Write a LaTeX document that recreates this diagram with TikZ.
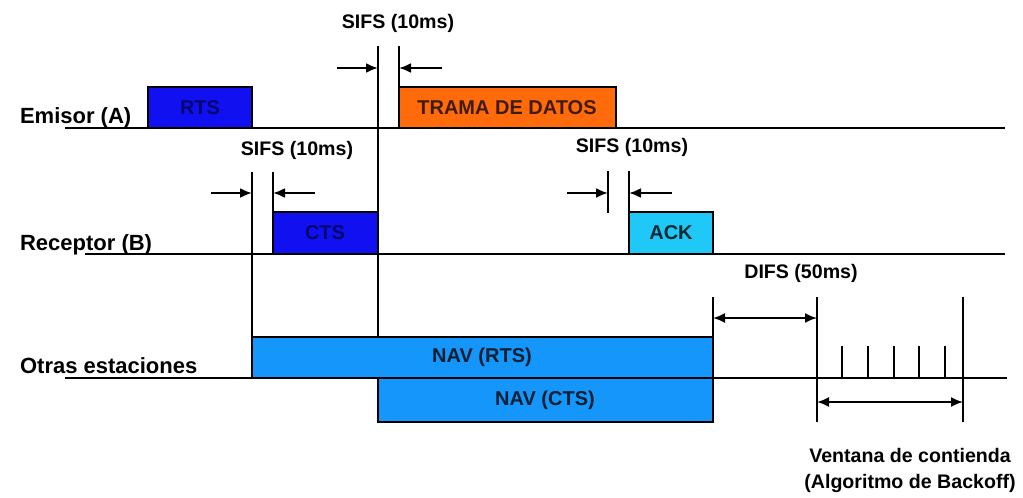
\documentclass[tikz,border=0pt]{standalone}
\usepackage{fontspec}
\setmainfont{Liberation Sans}
\usetikzlibrary{arrows.meta}

\definecolor{rtsblue}{RGB}{16,16,240}
\definecolor{ackcyan}{RGB}{32,200,248}
\definecolor{navblue}{RGB}{20,150,250}
\definecolor{datorange}{RGB}{255,106,10}

\tikzset{
  timeline/.style={line width=1.1pt},
  guide/.style={line width=0.6pt},
  frame/.style={draw, line width=1.1pt},
  boxtext/.style={font=\bfseries\fontsize{10}{12}\selectfont},
  lbl/.style={font=\bfseries\fontsize{9.8}{13}\selectfont, anchor=base},
  sta/.style={font=\bfseries\fontsize{11}{14}\selectfont, anchor=base west},
  gap/.style={line width=1.1pt, -{Latex[length=6pt,width=5pt]}},
  span/.style={line width=0.9pt, {Latex[length=6pt,width=5pt]}-{Latex[length=6pt,width=5pt]}}
}

\begin{document}
\begin{tikzpicture}[x=0.5pt,y=-0.5pt]
\useasboundingbox (0,0) rectangle (1023,498);

% station names
\node[sta] (emisor) at (13,123) {Emisor (A)};
\node[sta] (receptor) at (13,250) {Receptor (B)};
\node[sta] (otras) at (13,373) {Otras estaciones};

% time lines
\coordinate (A0) at (65,128);   \coordinate (A1) at (1005,128);
\coordinate (B0) at (85,254);   \coordinate (B1) at (1005,254);
\coordinate (C0) at (65,378);   \coordinate (C1) at (1007,378);
\draw[timeline] (A0) -- (A1);
\draw[timeline] (B0) -- (B1);
\draw[timeline] (C0) -- (C1);

% frames
\draw[frame, fill=rtsblue] (148,87) rectangle (252,128);
\node[boxtext, text=rtsblue!45!black] (rts) at (200,108) {RTS};
\draw[frame, fill=datorange] (399,87) rectangle (616,128);
\node[boxtext, text=datorange!25!black] (datos) at (507,108) {TRAMA DE DATOS};
\draw[frame, fill=rtsblue] (273,212) rectangle (378,254);
\node[boxtext, text=rtsblue!45!black] (cts) at (325,233) {CTS};
\draw[frame, fill=ackcyan] (629,212) rectangle (713,254);
\node[boxtext, text=ackcyan!20!black] (ack) at (671,233) {ACK};
\draw[frame, fill=navblue] (252,337) rectangle (713,378);
\node[boxtext, text=navblue!20!black] (navrts) at (482,357) {NAV (RTS)};
\draw[frame, fill=navblue] (378,378) rectangle (713,422);
\node[boxtext, text=navblue!20!black] (navcts) at (545,400) {NAV (CTS)};

% guide lines
\draw[guide] (378,46) -- (378,337);
\draw[guide] (399,46) -- (399,87);
\draw[guide] (252,172) -- (252,337);
\draw[guide] (273,172) -- (273,212);
\draw[guide] (608,171) -- (608,213);
\draw[guide] (629,171) -- (629,212);
\draw[guide] (713,297) -- (713,337);
\draw[guide] (817,297) -- (817,422);
\draw[guide] (963,297) -- (963,422);

% slots of the contention window
\foreach \x in {842,868,894,919,945}
  \draw[line width=1.1pt] (\x,346) -- (\x,378);

% SIFS before data
\node[lbl] (sifsA) at (398,28) {SIFS (10ms)};
\coordinate (sA1) at (337,68); \coordinate (sA2) at (378,68);
\coordinate (sA3) at (442,68); \coordinate (sA4) at (399,68);
\draw[gap] (sA1) -- (sA2);
\draw[gap] (sA3) -- (sA4);

% SIFS before CTS
\node[lbl] (sifsB) at (297,155) {SIFS (10ms)};
\coordinate (sB1) at (211,193); \coordinate (sB2) at (252,193);
\coordinate (sB3) at (315,193); \coordinate (sB4) at (273,193);
\draw[gap] (sB1) -- (sB2);
\draw[gap] (sB3) -- (sB4);

% SIFS before ACK
\node[lbl] (sifsC) at (632,152) {SIFS (10ms)};
\coordinate (sC1) at (567,193); \coordinate (sC2) at (608,193);
\coordinate (sC3) at (672,193); \coordinate (sC4) at (629,193);
\draw[gap] (sC1) -- (sC2);
\draw[gap] (sC3) -- (sC4);

% DIFS
\node[lbl] (difs) at (801,278) {DIFS (50ms)};
\coordinate (d1) at (713,318); \coordinate (d2) at (817,318);
\draw[span] (d1) -- (d2);

% contention window
\coordinate (w1) at (817,402); \coordinate (w2) at (963,402);
\draw[span] (w1) -- (w2);
\node[lbl, anchor=north, align=center] (ventana) at (910,441)
  {Ventana de contienda\\(Algoritmo de Backoff)};
\end{tikzpicture}
\end{document}
